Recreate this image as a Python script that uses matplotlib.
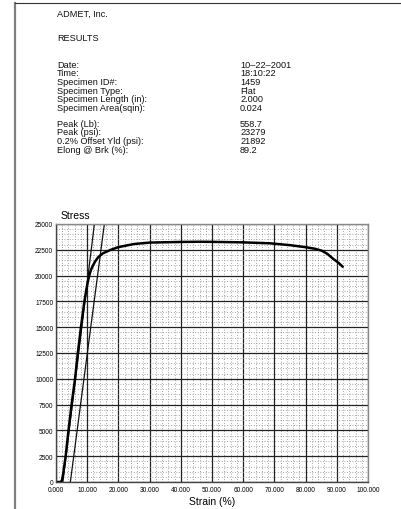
#!/usr/bin/env python3
"""ADMET tensile test report: header block + stress/strain curve."""
import numpy as np
import matplotlib
matplotlib.use("Agg")
import matplotlib.pyplot as plt
from matplotlib.lines import Line2D

plt.rcParams["font.family"] = ["Liberation Sans", "DejaVu Sans"]

# ─── Report text ──────────────────────────────────────────────────────────────
COMPANY = "ADMET, Inc."
SECTION = "RESULTS"
INFO_LABELS = ["Date:", "Time:", "Specimen ID#:", "Specimen Type:",
               "Specimen Length (in):", "Specimen Area(sqin):"]
INFO_VALUES = ["10\u201322\u20132001", "18:10:22", "1459", "Flat", "2.000", "0.024"]
RESULT_LABELS = ["Peak (Lb):", "Peak (psi):", "0.2% Offset Yld (psi):", "Elong @ Brk (%):"]
RESULT_VALUES = ["558.7", "23279", "21892", "89.2"]

# ─── Curve data ───────────────────────────────────────────────────────────────
strain = [0.0, 1.5, 1.9, 2.3, 3.1, 4.0, 5.0, 6.1, 7.0, 8.0, 9.1, 9.7, 10.2,
          10.7, 11.2, 11.8, 12.5, 13.5, 15.0, 17.3, 20.0, 25.0, 30.0, 40.0,
          46.0, 50.0, 60.0, 68.6, 75.0, 80.3, 83.0, 85.2, 87.0, 88.9, 90.5, 91.9]
stress = [0, 0, 150, 800, 2500, 5000, 7500, 10000, 12500, 15000, 17500, 18600,
          19400, 20050, 20550, 20950, 21350, 21780, 22150, 22470, 22760, 23060,
          23200, 23260, 23279, 23270, 23220, 23130, 22950, 22740, 22600, 22410,
          22100, 21610, 21250, 20860]

modulus_strain = [2.2, 12.3]
modulus_stress = [0, 25000]
offset_strain = [4.6, 15.5]
offset_stress = [0, 25000]

x_ticks = [0, 10, 20, 30, 40, 50, 60, 70, 80, 90, 100]
y_ticks = [0, 2500, 5000, 7500, 10000, 12500, 15000, 17500, 20000, 22500, 25000]

# ─── Figure ───────────────────────────────────────────────────────────────────
fig = plt.figure(figsize=(4.02, 5.10), dpi=100)
W, H = 402, 510

def fy(py):
    return 1 - py / H

def fx(px):
    return px / W

# page border
fig.add_artist(Line2D([fx(15), fx(15)], [fy(4), 0], color="#808080", lw=1.6))
fig.add_artist(Line2D([fx(15), 1], [fy(4), fy(4)], color="#333333", lw=0.8))

txt = dict(fontsize=6.6, va="center", ha="left", color="#111111")
fig.text(fx(57), fy(14), COMPANY, **txt)
fig.text(fx(57), fy(39), SECTION, **txt)
for i, (lab, val) in enumerate(zip(INFO_LABELS, INFO_VALUES)):
    y = 65 + i * 8.7
    fig.text(fx(57), fy(y), lab, **txt)
    fig.text(fx(240), fy(y), val, **txt)
for i, (lab, val) in enumerate(zip(RESULT_LABELS, RESULT_VALUES)):
    y = 124.3 + i * 8.6
    fig.text(fx(57), fy(y), lab, **txt)
    fig.text(fx(240), fy(y), val, **txt)

ax = fig.add_axes([fx(56), fy(483), fx(368) - fx(56), fy(225) - fy(483)])
ax.set_xlim(0, 100)
ax.set_ylim(0, 25000)

ax.set_xticks(x_ticks)
ax.set_xticklabels([f"{v:.3f}" for v in x_ticks], fontsize=4.7)
ax.set_yticks(y_ticks)
ax.set_yticklabels([str(v) for v in y_ticks], fontsize=4.7)
ax.set_xticks(np.arange(0, 101, 2), minor=True)
ax.set_yticks(np.arange(0, 25001, 500), minor=True)
ax.tick_params(which="both", length=0, pad=2)
ax.tick_params(axis="x", pad=3)

ax.grid(which="minor", color="#8a8a8a", lw=0.6, ls=(0, (1, 2.2)))
ax.grid(which="major", color="#222222", lw=0.9)
ax.set_axisbelow(True)
for side, sp in ax.spines.items():
    sp.set_color("#444444" if side in ("left", "bottom") else "#888888")
    sp.set_linewidth(1.0)

ax.plot(modulus_strain, modulus_stress, color="#111111", lw=0.9)
ax.plot(offset_strain, offset_stress, color="#111111", lw=0.9)
ax.plot(strain, stress, color="#000000", lw=1.8, solid_capstyle="round",
        solid_joinstyle="round")

fig.text(fx(61), fy(216), "Stress", fontsize=7.5, ha="left", va="center")
ax.set_xlabel("Strain (%)", fontsize=7.5, labelpad=2)

fig.savefig("out.png", dpi=100)
